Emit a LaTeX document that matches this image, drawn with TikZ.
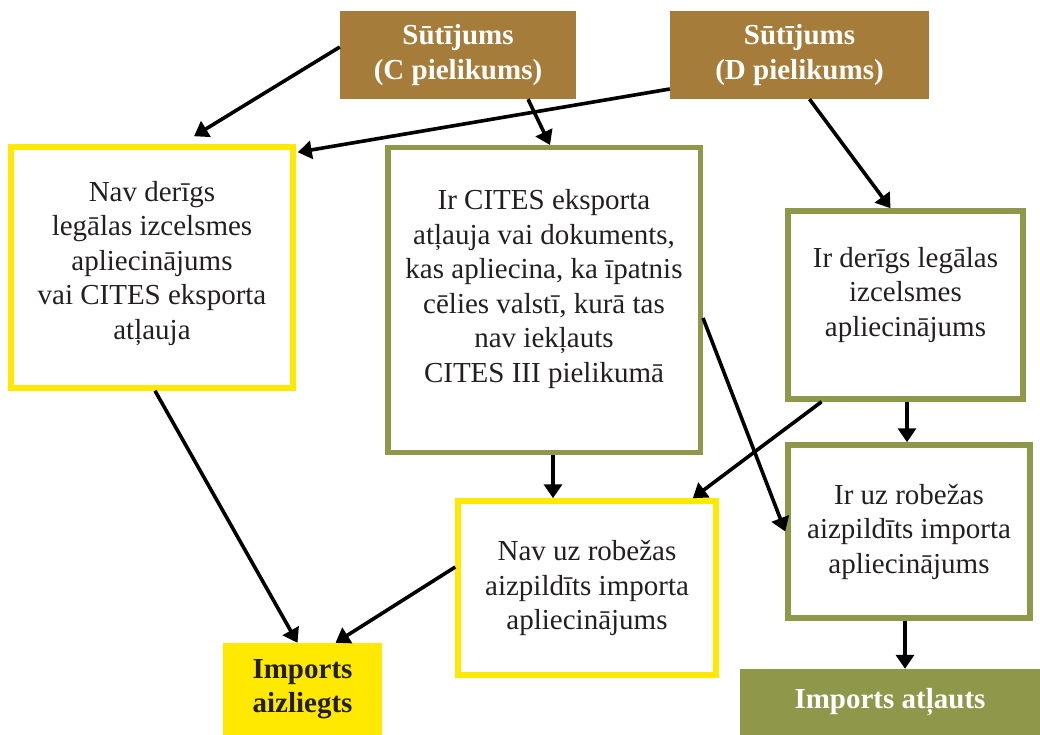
\documentclass[tikz,border=0pt]{standalone}
\usepackage{fontspec}
\setmainfont{Liberation Serif}
\usepackage{tikz}
\usetikzlibrary{arrows.meta,positioning,calc}
\usepackage{xcolor}
\definecolor{consign}{RGB}{166,124,58}
\definecolor{permit}{RGB}{143,151,74}
\definecolor{refuse}{RGB}{255,233,0}
\definecolor{ink}{RGB}{35,31,32}

\begin{document}
\begin{tikzpicture}[
  x=1pt, y=-1pt,
  txt/.style={font=\fontsize{29}{34.5}\selectfont, align=center, text=ink},
  box/.style={txt, draw, line width=5.5pt},
  nobox/.style={box, draw=refuse},
  okbox/.style={box, draw=permit},
  head/.style={fill=consign, text=white, font=\fontsize{29}{34.5}\selectfont\bfseries, align=center},
  arr/.style={-{Triangle[length=14pt,width=18pt]}, line width=3.6pt},
]
\useasboundingbox (0,0) rectangle (1040,735);
% consignments
\node[head, minimum width=236pt, minimum height=88pt] (cpl) at (458,55)
  {Sūtījums\\ (C pielikums)};
\node[head, minimum width=259pt, minimum height=88pt] (dpl) at (799.5,55)
  {Sūtījums\\ (D pielikums)};
% checks
\node[nobox, minimum width=282pt, minimum height=241pt] (nolegal) at (152,267.5) {};
\node[txt] (nolegaltxt) at ([yshift=4pt]nolegal.center)
  {Nav derīgs\\ legālas izcelsmes\\ apliecinājums\\ vai CITES eksporta\\ atļauja};
\node[okbox, minimum width=312.5pt, minimum height=304.5pt] (cites) at (544,300) {};
\node[txt] (citestxt) at ([yshift=11pt]cites.center)
  {Ir CITES eksporta\\ atļauja vai dokuments,\\ kas apliecina, ka īpatnis\\ cēlies valstī, kurā tas\\ nav iekļauts\\ CITES III pielikumā};
\node[okbox, minimum width=235pt, minimum height=188pt] (legal) at (905.5,305) {};
\node[txt] (legaltxt) at ([yshift=10pt]legal.center)
  {Ir derīgs legālas\\ izcelsmes\\ apliecinājums};
\node[nobox, minimum width=258pt, minimum height=174pt] (noimp) at (587,588)
  {Nav uz robežas\\ aizpildīts importa\\ apliecinājums};
\node[okbox, minimum width=242pt, minimum height=173pt] (imp) at (909,531.5)
  {Ir uz robežas\\ aizpildīts importa\\ apliecinājums};
% outcomes
\node[head, fill=refuse, text=ink, minimum width=159pt, minimum height=92pt] (denied) at (302.5,689)
  {Imports\\ aizliegts};
\node[head, fill=permit, minimum width=300pt, minimum height=66pt] (allowed) at (890,702)
  {Imports atļauts};
\draw[arr] ([yshift=8pt]cpl.west) -- ([xshift=42pt,yshift=8pt]nolegal.north);
\draw[arr] ([yshift=-34pt]dpl.west) -- ([xshift=2pt,yshift=-8pt]nolegal.north east);
\draw[arr] ([xshift=70pt]cpl.south) -- ([xshift=6pt]cites.north);
\draw[arr] ([xshift=10pt]dpl.south) -- ([xshift=-15pt]legal.north);
\draw[arr] ([xshift=3pt]nolegal.south) -- ([xshift=-5pt]denied.north);
\draw[arr] ([yshift=21pt]noimp.west) -- ([xshift=33pt]denied.north);
\draw[arr] ([xshift=9pt]cites.south) -- ([xshift=-34pt]noimp.north);
\draw[arr] ([xshift=-84pt]legal.south) -- ([xshift=-26pt]noimp.north east);
\draw[arr] ([yshift=-18pt]cites.east) -- (imp.west);
\draw[arr] ([xshift=1.5pt]legal.south) -- ([xshift=-2pt]imp.north);
\draw[arr] ([xshift=-4pt]imp.south) -- ([xshift=15pt]allowed.north);
\end{tikzpicture}
\end{document}
